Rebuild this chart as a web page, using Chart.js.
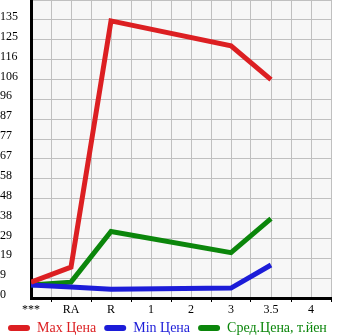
<!DOCTYPE html>
<html>
<head>
<meta charset="utf-8">
<script src="https://cdn.jsdelivr.net/npm/chart.js@4.4.1/dist/chart.umd.min.js"></script>
<style>
  html, body { margin: 0; padding: 0; background: #fff; }
  #wrap { width: 345px; height: 335px; }
</style>
</head>
<body>
<div id="wrap"><canvas id="chartHarga"></canvas></div>
<script>
// Kategori sumbu X (posisi 0..7)
const xLabels = ['***', 'RA', 'R', '1', '2', '3', '3,5', '4'];

// Label sumbu Y (setiap langkah grid)
const yTickLabels = ['0', '9', '19', '29', '38', '48', '58', '67', '77', '87', '96', '106', '116', '125', '135'];
const yStep = 135 / 14;

// Nilai seri (null = tidak ada data)
const maxPrice = [7.7, 15, 134.5, null, null, 122.4, 106, null];
const minPrice = [6.3, 5.3, 4.3, null, null, 4.8, 16, null];
const avgPrice = [6.3, 7.7, 32.3, null, null, 22, 38.5, null];

const seriesNames = ['Max Цена', 'Min Цена', 'Сред.Цена, т.йен'];
const seriesColors = ['#dc1f22', '#1c1cd8', '#0b860b'];

// Ubah array kategori jadi titik {x, y}
function toPoints(values) {
    return values
        .map((v, i) => ({ x: i, y: v }))
        .filter(p => p.y !== null);
}

// Plugin latar area plot abu-abu muda
const plotBg = {
    id: 'plotBg',
    beforeDraw(chart) {
        const { ctx, chartArea } = chart;
        ctx.save();
        ctx.fillStyle = '#f7f7f7';
        ctx.fillRect(chartArea.left, chartArea.top, chartArea.right - chartArea.left, chartArea.bottom - chartArea.top);
        ctx.restore();
    }
};

const serif = 'Liberation Serif, Times New Roman, serif';

const ctx = document.getElementById('chartHarga').getContext('2d');
new Chart(ctx, {
    type: 'line',
    data: {
        datasets: [maxPrice, minPrice, avgPrice].map((vals, i) => ({
            label: seriesNames[i],
            data: toPoints(vals),
            borderColor: seriesColors[i],
            backgroundColor: seriesColors[i],
            borderWidth: 5,
            pointRadius: 0,
            tension: 0,
            fill: false
        }))
    },
    options: {
        responsive: true,
        maintainAspectRatio: false,
        animation: false,
        layout: { padding: 0 },
        plugins: {
            tooltip: { enabled: false },
            legend: {
                position: 'bottom',
                align: 'start',
                maxHeight: 22,
                labels: {
                    boxWidth: 22,
                    boxHeight: 6,
                    padding: 8,
                    font: { family: serif, size: 14 },
                    generateLabels(chart) {
                        return chart.data.datasets.map((ds, i) => ({
                            text: ds.label,
                            fillStyle: seriesColors[i],
                            strokeStyle: seriesColors[i],
                            lineWidth: 0,
                            borderRadius: 3,
                            fontColor: seriesColors[i],
                            datasetIndex: i
                        }));
                    }
                }
            }
        },
        scales: {
            x: {
                type: 'linear',
                min: 0,
                max: 7.5,
                afterBuildTicks(scale) {
                    const t = [];
                    for (let i = 0; i <= 15; i++) t.push({ value: i * 0.5 });
                    scale.ticks = t;
                },
                afterFit(scale) {
                    scale.height = 15;
                    scale.paddingLeft = 0;
                    scale.paddingRight = 0;
                },
                border: { color: '#000', width: 3 },
                grid: {
                    color: '#c0c0c0',
                    lineWidth: 1,
                    drawTicks: true,
                    tickLength: 4,
                    tickColor: c => (c.tick && c.tick.value % 1 !== 0) ? '#000' : 'rgba(0,0,0,0)'
                },
                ticks: {
                    autoSkip: false,
                    maxRotation: 0,
                    padding: 1,
                    color: '#000',
                    font: { family: serif, size: 12 },
                    callback: v => (v % 1 === 0 ? (xLabels[v] || '') : '')
                }
            },
            y: {
                type: 'linear',
                min: 0,
                max: yStep * 15,
                afterBuildTicks(scale) {
                    const t = [];
                    for (let i = 0; i <= 15; i++) t.push({ value: i * yStep });
                    scale.ticks = t;
                },
                afterFit(scale) {
                    scale.width = 31;
                    scale.paddingTop = 0;
                    scale.paddingBottom = 0;
                },
                border: { color: '#000', width: 3 },
                grid: { color: '#c0c0c0', lineWidth: 1, drawTicks: false },
                ticks: {
                    autoSkip: false,
                    crossAlign: 'far',
                    padding: 4,
                    labelOffset: -3,
                    color: '#000',
                    font: { family: serif, size: 12 },
                    callback: (v, i) => yTickLabels[i] || ''
                }
            },
            // Sumbu kosong di kanan, hanya untuk memberi ruang putih
            yRight: {
                type: 'linear',
                position: 'right',
                min: 0,
                max: 1,
                afterFit(scale) {
                    scale.width = 14;
                    scale.paddingTop = 0;
                    scale.paddingBottom = 0;
                },
                border: { display: false },
                grid: { display: false },
                ticks: { display: false }
            }
        }
    },
    plugins: [plotBg]
});
</script>
</body>
</html>
